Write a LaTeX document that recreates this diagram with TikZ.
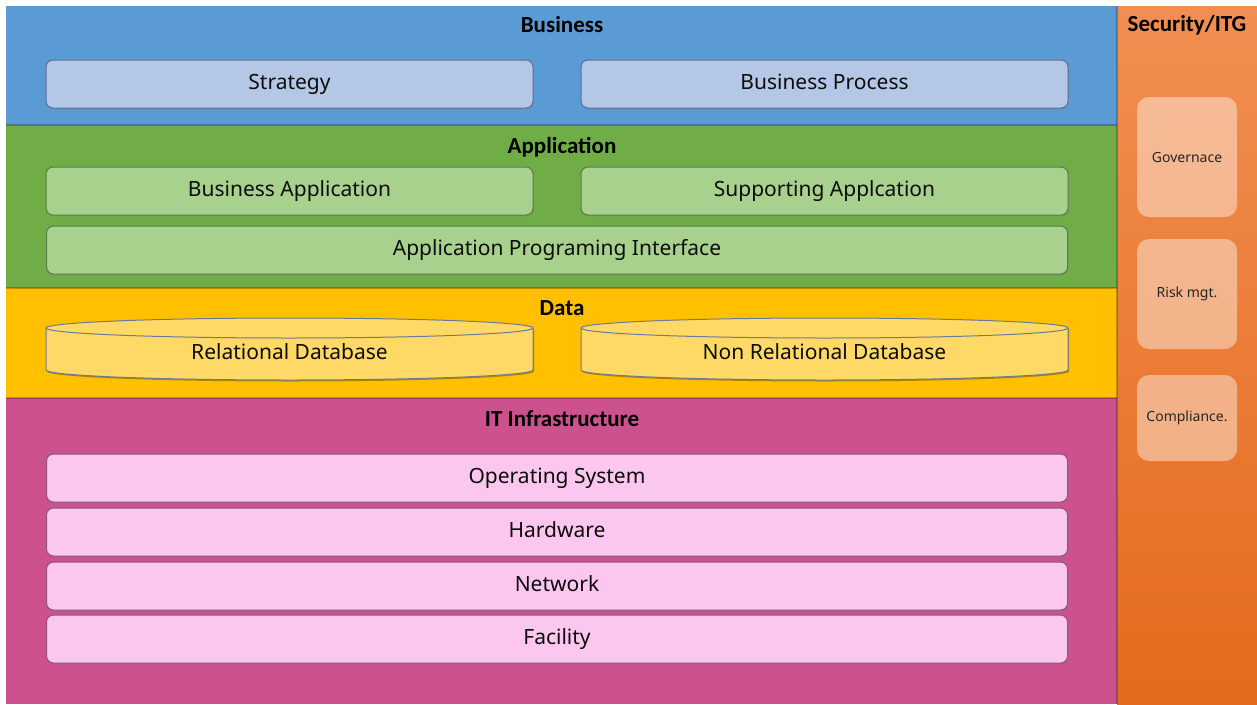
\documentclass[tikz,border=0pt]{standalone}
\usepackage{fontspec}
\setmainfont{Noto Sans}
\newfontfamily\titlefont{Carlito}
\usetikzlibrary{shadows}
\definecolor{layblue}{HTML}{5B9BD5}
\definecolor{laygreen}{HTML}{70AD47}
\definecolor{layyellow}{HTML}{FFC000}
\definecolor{laypink}{HTML}{CD518C}
\definecolor{orgtop}{HTML}{F28E52}
\definecolor{orgbot}{HTML}{E36B1B}
\definecolor{bizfill}{HTML}{B4C7E7}
\definecolor{bizline}{HTML}{5A6F8F}
\definecolor{appfill}{HTML}{A9D18E}
\definecolor{appline}{HTML}{5B7A4A}
\definecolor{dbfill}{HTML}{FFD966}
\definecolor{dbline}{HTML}{6A7A99}
\definecolor{itfill}{HTML}{FCC7EF}
\definecolor{itline}{HTML}{8A5577}
\begin{document}
\begin{tikzpicture}[x=1pt,y=-1pt,
  title/.style={font=\titlefont\bfseries\fontsize{23}{26}\selectfont, text=black},
  basebox/.style={rounded corners=7pt, line width=1pt, minimum height=48pt, inner sep=0pt,
     font=\fontsize{21}{25}\selectfont, text=black!95, text height=15pt, text depth=4pt,
     drop shadow={shadow xshift=1pt, shadow yshift=-1.5pt, opacity=0.35}},
  bizbox/.style={basebox, draw=bizline, fill=bizfill},
  appbox/.style={basebox, draw=appline, fill=appfill},
  itbox/.style={basebox, draw=itline, fill=itfill, minimum width=1021pt},
  dbtext/.style={font=\fontsize{21}{25}\selectfont, text=black!95, text height=15pt, text depth=4pt},
  secbox/.style={rounded corners=12pt, fill=white, fill opacity=0.42, text opacity=1,
     minimum width=100pt, inner sep=0pt, font=\fontsize{14}{16}\selectfont, text=black!85},
  sepline/.style={black, opacity=0.25, line width=1.2pt}
]
\useasboundingbox (0,0) rectangle (1257,704);
\fill[white] (0,0) rectangle (1257,704);
% layers
\fill[layblue]   (6,6)   rectangle (1117,125);
\fill[laygreen]  (6,125) rectangle (1117,288);
\fill[layyellow] (6,288) rectangle (1117,398);
\fill[laypink]   (6,398) rectangle (1117,704);
\draw[sepline] (6,125) -- (1117,125);
\draw[sepline] (6,288) -- (1117,288);
\draw[sepline] (6,398) -- (1117,398);
\shade[top color=orgtop, bottom color=orgbot] (1117,6) rectangle (1257,704);
\draw[sepline] (1117,6) -- (1117,704);

% titles
\node[title] (tbiz) at (562,25) {Business};
\node[title] (tapp) at (562,147) {Application};
\node[title] (tdata) at (562,308) {Data};
\node[title] (tit) at (562,419) {IT Infrastructure};
\node[title] (tsec) at (1187,25) {Security/ITG};

% business
\node[bizbox, minimum width=487pt] (strategy) at (289.5,84) {Strategy};
\node[bizbox, minimum width=487pt] (bproc) at (824.5,84) {Business Process};

% application
\node[appbox, minimum width=487pt] (bapp) at (289.5,191) {Business Application};
\node[appbox, minimum width=487pt] (sapp) at (824.5,191) {Supporting Applcation};
\node[appbox, minimum width=1021pt] (api) at (557,250) {Application Programing Interface};

% data cylinders
\foreach \cx/\nm/\txt in {289.5/rdb/Relational Database, 824.5/nrdb/Non Relational Database}{
  \fill[black, opacity=0.3] ({\cx-243.5+1},{329.5}) -- ({\cx-243.5+1},{371.5})
     arc[start angle=180, end angle=360, x radius=243.5, y radius=-10] -- ({\cx+243.5+1},{329.5}) -- cycle;
  \filldraw[draw=dbline, fill=dbfill, line width=1pt]
     ({\cx-243.5},328) -- ({\cx-243.5},370)
     arc[start angle=180, end angle=360, x radius=243.5, y radius=-10]
     -- ({\cx+243.5},328)
     arc[start angle=0, end angle=180, x radius=243.5, y radius=-10] -- cycle;
  \draw[dbline, line width=1pt] ({\cx-243.5},328)
     arc[start angle=180, end angle=360, x radius=243.5, y radius=-10];
  \node[dbtext] (\nm) at (\cx,354) {\txt};
}

% IT infrastructure
\node[itbox] (os) at (557,478) {Operating System};
\node[itbox] (hw) at (557,532) {Hardware};
\node[itbox] (net) at (557,586) {Network};
\node[itbox] (fac) at (557,639) {Facility};

% security
\node[secbox, minimum height=120pt] (gov) at (1187,157) {Governace};
\node[secbox, minimum height=110pt] (risk) at (1187,294) {Risk mgt.};
\node[secbox, minimum height=86pt] (comp) at (1187,418) {Compliance.};
\end{tikzpicture}
\end{document}
